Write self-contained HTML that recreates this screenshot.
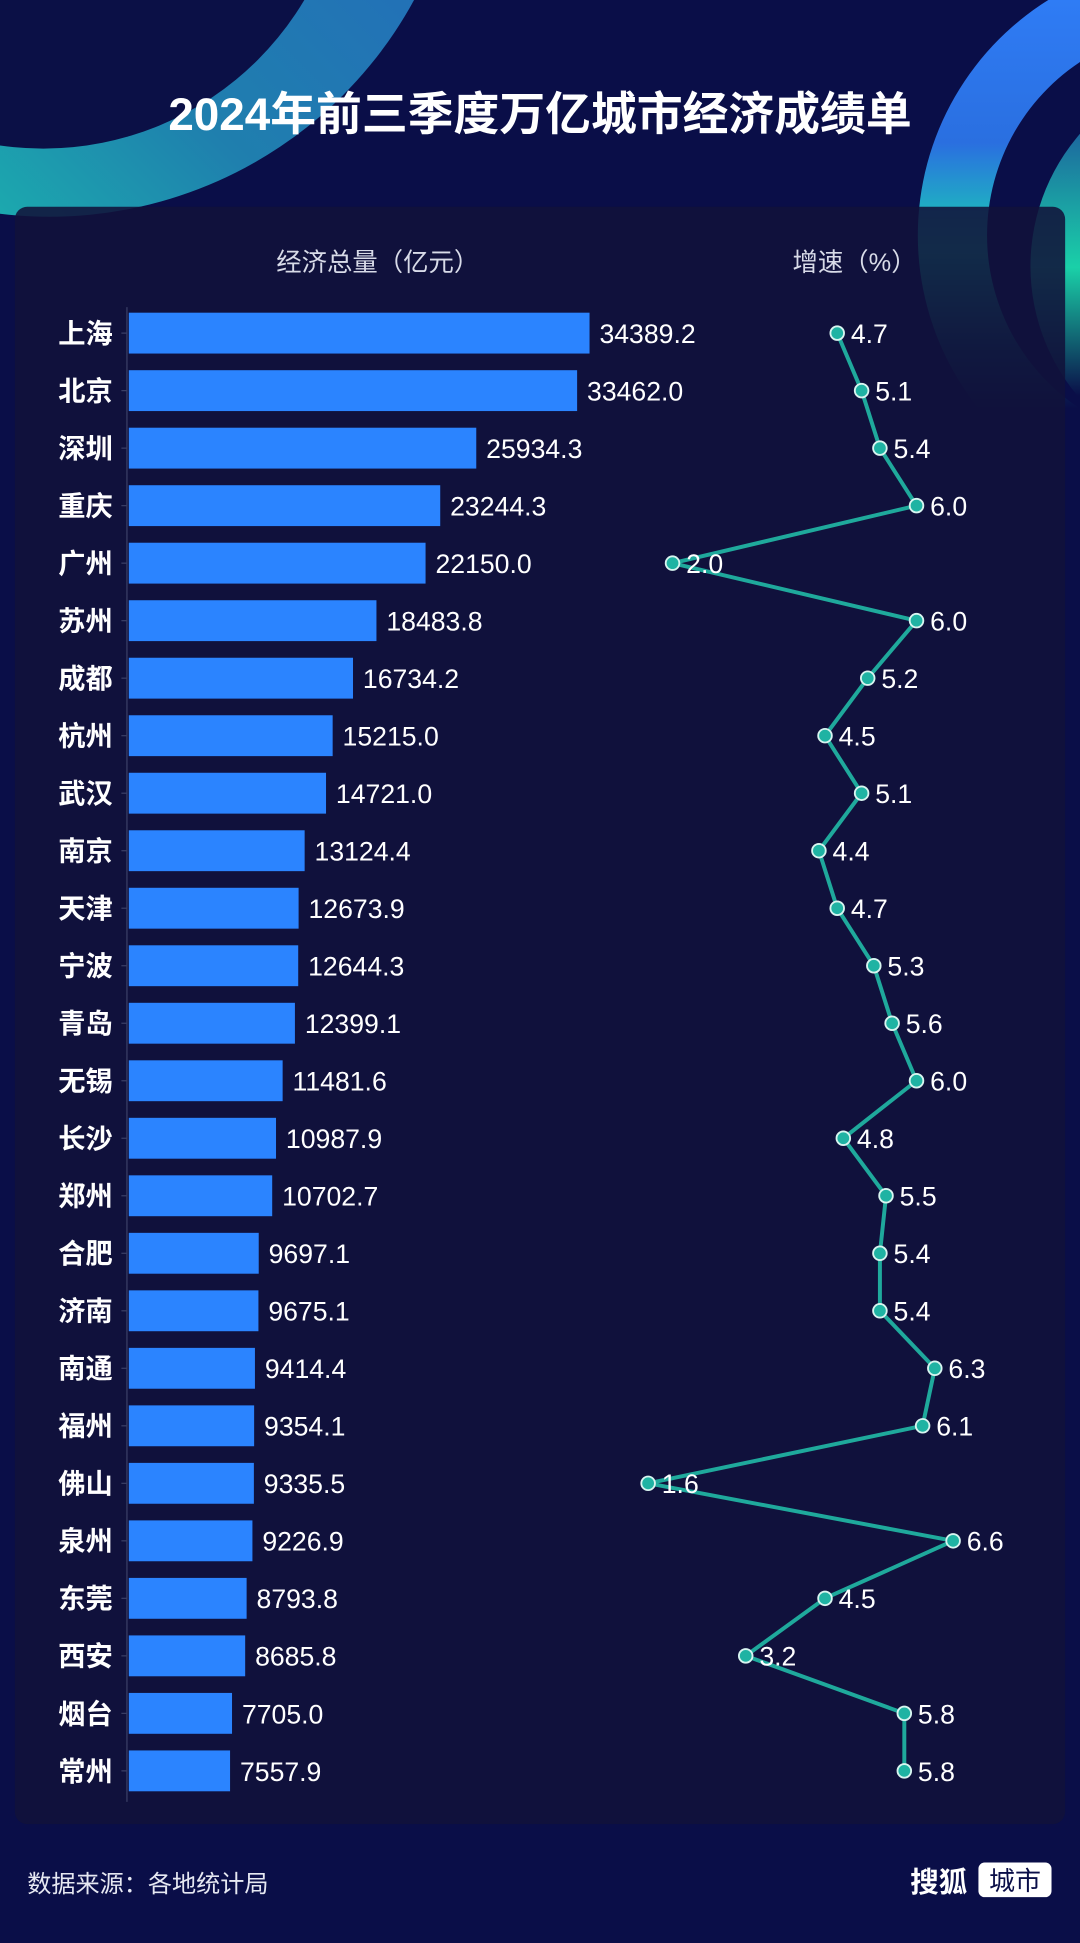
<!DOCTYPE html>
<html><head><meta charset="utf-8">
<style>
html,body{margin:0;padding:0;background:#0a0e48;}
svg{display:block;font-family:"Liberation Sans","Noto Sans CJK SC",sans-serif;}
</style></head>
<body>
<svg id="chart" width="1080" height="1943" viewBox="0 0 872 1569" preserveAspectRatio="none" xmlns="http://www.w3.org/2000/svg">
<defs>
<linearGradient id="gl" x1="1" y1="0" x2="0" y2="1"><stop offset="0" stop-color="#2a56c8"/><stop offset="0.6" stop-color="#1f7fae"/><stop offset="1" stop-color="#18dcae"/></linearGradient>
<linearGradient id="gr" gradientUnits="userSpaceOnUse" x1="0" y1="0" x2="0" y2="330"><stop offset="0" stop-color="#2f7cf5"/><stop offset="0.35" stop-color="#2a6fe0"/><stop offset="0.62" stop-color="#18d8b0"/><stop offset="0.85" stop-color="#18d8b0" stop-opacity="0.3"/><stop offset="1" stop-color="#18d8b0" stop-opacity="0"/></linearGradient>
<linearGradient id="gr2" gradientUnits="userSpaceOnUse" x1="0" y1="60" x2="0" y2="320"><stop offset="0" stop-color="#1d3a9a"/><stop offset="0.6" stop-color="#1ad0a8"/><stop offset="1" stop-color="#1ad0a8" stop-opacity="0"/></linearGradient>
</defs>
<rect x="0" y="0" width="872" height="1569" fill="#0a0e48"/>
<g>
<circle cx="40" cy="-160" r="335" fill="url(#gl)"/>
<circle cx="35" cy="-125" r="245" fill="#0b1046"/>
</g>
<g>
<path d="M965,-34 a224,224 0 1 0 0.1,0 Z M965,22 a168,168 0 1 1 -0.1,0 Z" fill="url(#gr)" fill-rule="evenodd"/>
<circle cx="995" cy="215" r="163" fill="url(#gr2)"/>
<circle cx="1015" cy="205" r="150" fill="#0b1046" opacity="0.0"/>
</g>
<text x="436" y="105" text-anchor="middle" font-size="37" font-weight="bold" fill="#fff">2024年前三季度万亿城市经济成绩单</text>
<rect x="12" y="167" width="848" height="1306" rx="10" fill="#11123a" opacity="0.88"/>
<text x="305" y="219" text-anchor="middle" font-size="20.5" fill="#d8dbe8">经济总量（亿元）</text>
<text x="690" y="219" text-anchor="middle" font-size="20.5" fill="#d8dbe8">增速（%）</text>
<line x1="102.5" y1="248" x2="102.5" y2="1455" stroke="#3a3f66" stroke-width="1"/>
<g id="bars"></g>
<g id="growth"></g>
<text x="22" y="1528" font-size="19.5" fill="#e6e8f2">数据来源：各地统计局</text>
<text x="735" y="1528" font-size="23" font-weight="bold" fill="#fff">搜狐</text>
<rect x="790" y="1504" width="59" height="28" rx="5" fill="#fff"/>
<text x="819.5" y="1526" text-anchor="middle" font-size="21" fill="#0a0e48">城市</text>
</svg>
<script>
const cities = ["上海","北京","深圳","重庆","广州","苏州","成都","杭州","武汉","南京","天津","宁波","青岛","无锡","长沙","郑州","合肥","济南","南通","福州","佛山","泉州","东莞","西安","烟台","常州"];
const gdpValues = [34389.2,33462.0,25934.3,23244.3,22150.0,18483.8,16734.2,15215.0,14721.0,13124.4,12673.9,12644.3,12399.1,11481.6,10987.9,10702.7,9697.1,9675.1,9414.4,9354.1,9335.5,9226.9,8793.8,8685.8,7705.0,7557.9];
const growthValues = [4.7,5.1,5.4,6.0,2.0,6.0,5.2,4.5,5.1,4.4,4.7,5.3,5.6,6.0,4.8,5.5,5.4,5.4,6.3,6.1,1.6,6.6,4.5,3.2,5.8,5.8];

const NS = "http://www.w3.org/2000/svg";
const rowY = i => 269 + i * 46.44;
const barX = v => 104 + v * (372 / 34389.2);
const gX = v => 543 + (v - 2) * 49.25;
function mk(tag, attrs) { const e = document.createElementNS(NS, tag); for (const k in attrs) e.setAttribute(k, attrs[k]); return e; }

const bars = document.getElementById('bars');
cities.forEach((c, i) => {
  const y = rowY(i);
  const tk = mk('line', {x1: 98, x2: 102.5, y1: y, y2: y, stroke: '#3a3f66', 'stroke-width': 1});
  
  
  bars.appendChild(tk);
  const lab = mk('text', {x: 91, y: y + 8, 'text-anchor': 'end', 'font-size': 22, 'font-weight': 'bold', fill: '#fff'});
  lab.textContent = c;
  
  
  bars.appendChild(lab);
  const r = mk('rect', {x: 104, y: y - 16.5, width: barX(gdpValues[i]) - 104, height: 33, fill: '#2b84ff'});
  
  
  bars.appendChild(r);
  const t = mk('text', {x: barX(gdpValues[i]) + 8, y: y + 8, 'font-size': 21.5, fill: '#fff'});
  t.textContent = gdpValues[i].toFixed(1);
  
  
  bars.appendChild(t);
});

const g = document.getElementById('growth');
const pts = growthValues.map((v, i) => gX(v) + ',' + rowY(i)).join(' ');
const line = mk('polyline', {points: pts, fill: 'none', stroke: '#1fa99c', 'stroke-width': 3.2, 'stroke-linejoin': 'round'});


g.appendChild(line);
growthValues.forEach((v, i) => {
  const c = mk('circle', {cx: gX(v), cy: rowY(i), r: 5.5, fill: '#1fb3a3', stroke: '#d8f5f0', 'stroke-width': 1.5});
  
  
  g.appendChild(c);
  const t = mk('text', {x: gX(v) + 11, y: rowY(i) + 8, 'font-size': 21.5, fill: '#fff'});
  t.textContent = v.toFixed(1);
  
  
  g.appendChild(t);
});
</script>
</body></html>
